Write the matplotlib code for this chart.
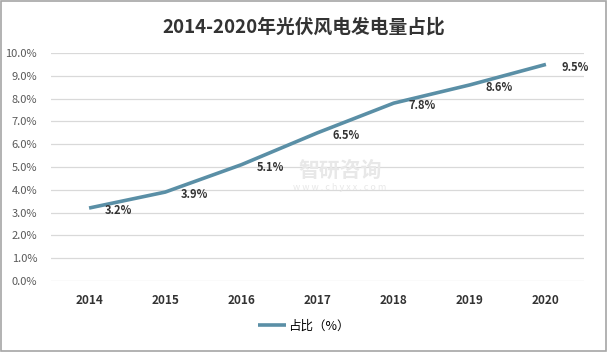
import matplotlib
matplotlib.use("Agg")
import matplotlib.pyplot as plt
from matplotlib.patches import Rectangle
from matplotlib.ticker import FuncFormatter

plt.rcParams['font.family'] = ['Noto Sans CJK SC', 'DejaVu Sans']

years = ['2014', '2015', '2016', '2017', '2018', '2019', '2020']
share = [3.2, 3.9, 5.1, 6.5, 7.8, 8.6, 9.5]
title = '2014-2020年光伏风电发电量占比'
series_name = '占比（%）'
line_color = '#5A8FA6'

fig = plt.figure(figsize=(6.08, 3.52), dpi=100)
ax = fig.add_axes([51 / 608, 1 - 281 / 352, 533 / 608, 228 / 352])

x = list(range(len(years)))
line, = ax.plot(x, share, color=line_color, linewidth=2.6, solid_capstyle='butt',
                label=series_name, zorder=3)

# data labels, right of each point
for xi, v in zip(x, share):
    ax.annotate(f'{v:.1f}%', (xi, v), xytext=(11, -2), textcoords='offset points',
                ha='left', va='center', fontsize=8, fontweight='bold', color='#333333',
                zorder=4)

ax.set_xlim(-0.5, len(years) - 0.5)
ax.set_ylim(0, 10)
ax.set_yticks(range(0, 11))
ax.yaxis.set_major_formatter(FuncFormatter(lambda v, p: f'{v:.1f}%'))
ax.set_xticks(x)
ax.set_xticklabels(years, fontweight='bold', fontsize=8.5, color='#333333')
ax.tick_params(axis='y', labelsize=8, colors='#595959', length=0, pad=10)
ax.tick_params(axis='x', length=0, pad=9)
ax.grid(axis='y', color='#D9D9D9', linewidth=0.9)
ax.set_axisbelow(True)
for s in ax.spines.values():
    s.set_visible(False)

fig.suptitle(title, x=0.5, y=1 - 27 / 352, va='center', fontsize=13.5,
             fontweight='bold', color='#333333')

# faint watermark, nudged right so it clears the 2016 label
fig.text(340 / 608, 1 - 170 / 352, '智研咨询', ha='center', va='center', fontsize=15,
         color='#E8E8E8', fontweight='bold', zorder=0)
fig.text(340 / 608, 1 - 187 / 352, 'w w w . c h y x x . c o m', ha='center', va='center',
         fontsize=6.5, color='#E8E8E8', zorder=0)

fig.legend(handles=[line], loc='center', bbox_to_anchor=(0.5, 1 - 326 / 352),
           frameon=False, fontsize=9, handlelength=2.2, handletextpad=0.2)

fig.patches.append(Rectangle((0.002, 0.003), 0.995, 0.993, transform=fig.transFigure,
                             fill=False, edgecolor='#A6A6A6', linewidth=1.2))

fig.savefig('out.png', dpi=100)
